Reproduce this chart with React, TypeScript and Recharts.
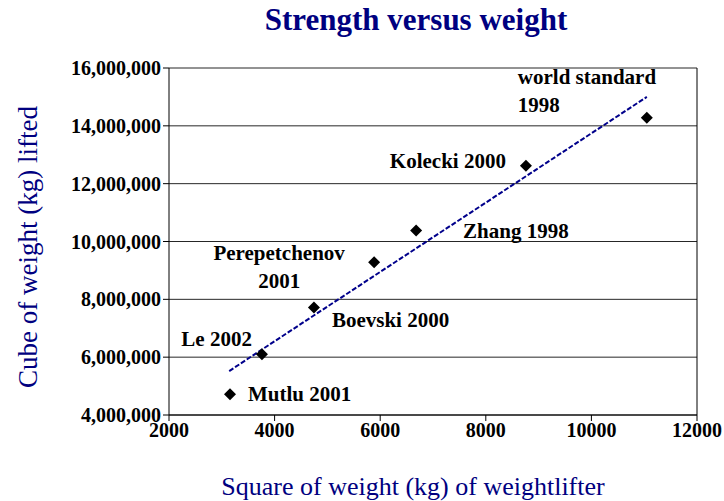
import {
  ScatterChart,
  Scatter,
  XAxis,
  YAxis,
  CartesianGrid,
  ReferenceLine,
  LabelList,
} from "recharts";

const NAMES = [
  "Mutlu 2001",
  "Le 2002",
  "Boevski 2000",
  "Perepetchenov 2001",
  "Zhang 1998",
  "Kolecki 2000",
  "world standard 1998",
];
const SQUARE_WEIGHT = [3155, 3760, 4745, 5885, 6680, 8760, 11050];
const CUBE_LIFTED = [4720000, 6100000, 7720000, 9280000, 10380000, 12620000, 14280000];

const TREND_X = [3140, 11050];
const TREND_Y = [5520000, 15000000];

const X_TICKS = [2000, 4000, 6000, 8000, 10000, 12000];
const Y_TICKS = [4000000, 6000000, 8000000, 10000000, 12000000, 14000000, 16000000];

const NAVY = "#000080";
const FONT = "'Liberation Serif', 'Times New Roman', serif";

// label placement per point: [dx, dy, anchor, lines]
const LABEL_POS: [number, number, string, string[]][] = [
  [18, 0, "start", ["Mutlu 2001"]],
  [-10, -15, "end", ["Le 2002"]],
  [18, 13, "start", ["Boevski 2000"]],
  [-95, -9, "middle", ["Perepetchenov", "2001"]],
  [47, 0, "start", ["Zhang 1998"]],
  [-20, -5, "end", ["Kolecki 2000"]],
  [-129, -41, "start", ["world standard", "1998"]],
];

const points = NAMES.map((name, i) => ({
  name,
  x: SQUARE_WEIGHT[i],
  y: CUBE_LIFTED[i],
}));
const trend = TREND_X.map((x, i) => ({ x, y: TREND_Y[i] }));

function Diamond(props: any) {
  const { cx, cy } = props;
  const r = 6;
  return (
    <path
      d={`M${cx},${cy - r} L${cx + r},${cy} L${cx},${cy + r} L${cx - r},${cy} Z`}
      fill="#000"
    />
  );
}

function PointLabel(props: any) {
  const { x, y, width, height, index } = props;
  const cx = x + (width || 0) / 2;
  const cy = y + (height || 0) / 2;
  const [dx, dy, anchor, lines] = LABEL_POS[index];
  return (
    <text
      x={cx + dx}
      y={cy + dy}
      textAnchor={anchor as any}
      dominantBaseline="central"
      fontFamily={FONT}
      fontWeight="bold"
      fontSize={21}
      fill="#000"
    >
      {lines.map((l, k) => (
        <tspan key={k} x={cx + dx} dy={k === 0 ? 0 : 28}>
          {l}
        </tspan>
      ))}
    </text>
  );
}

export default function App() {
  return (
    <div
      style={{
        position: "absolute",
        left: 0,
        top: 0,
        width: 724,
        height: 501,
        background: "#fff",
        fontFamily: FONT,
      }}
    >
      <div
        style={{
          position: "absolute",
          top: 2,
          left: 0,
          width: 832,
          textAlign: "center",
          fontSize: 31,
          fontWeight: "bold",
          color: NAVY,
        }}
      >
        Strength versus weight
      </div>
      <div
        style={{
          position: "absolute",
          left: 28,
          top: 247,
          transform: "translate(-50%, -50%) rotate(-90deg)",
          whiteSpace: "nowrap",
          fontSize: 27,
          color: NAVY,
        }}
      >
        Cube of weight (kg) lifted
      </div>
      <div
        style={{
          position: "absolute",
          left: 413,
          top: 487,
          transform: "translate(-50%, -50%)",
          whiteSpace: "nowrap",
          fontSize: 26,
          color: NAVY,
        }}
      >
        Square of weight (kg) of weightlifter
      </div>
      <ScatterChart
        width={724}
        height={501}
        margin={{ top: 68, right: 27, bottom: 36, left: 50 }}
        style={{ position: "absolute", left: 0, top: 0 }}
      >
        <CartesianGrid
          horizontal
          vertical={false}
          stroke="#000"
          strokeOpacity={0.85}
        />
        <XAxis
          type="number"
          dataKey="x"
          domain={[2000, 12000]}
          ticks={X_TICKS}
          height={50}
          stroke="#000"
          tickSize={6}
          tick={{ fill: "#000", fontSize: 20, fontWeight: "bold", fontFamily: FONT }}
          allowDataOverflow
        />
        <YAxis
          type="number"
          dataKey="y"
          domain={[4000000, 16000000]}
          ticks={Y_TICKS}
          width={119}
          stroke="#000"
          tickSize={6}
          tickFormatter={(v: number) => v.toLocaleString("en-US")}
          tick={{ fill: "#000", fontSize: 20, fontWeight: "bold", fontFamily: FONT }}
          allowDataOverflow
        />
        <ReferenceLine x={12000} stroke="#000" />
        <Scatter
          data={trend}
          line={{ stroke: "#00008b", strokeWidth: 2, strokeDasharray: "5 2" }}
          shape={() => null}
          isAnimationActive={false}
        />
        <Scatter data={points} shape={<Diamond />} isAnimationActive={false}>
          <LabelList dataKey="name" content={<PointLabel />} />
        </Scatter>
      </ScatterChart>
    </div>
  );
}
